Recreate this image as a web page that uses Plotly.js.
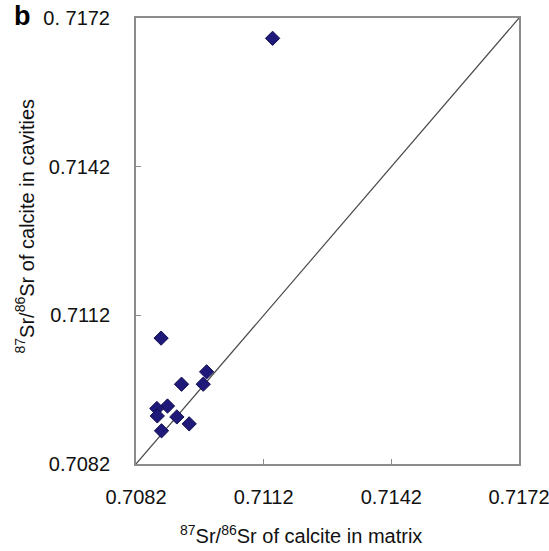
<!DOCTYPE html>
<html>
<head>
<meta charset="utf-8">
<script src="https://cdn.plot.ly/plotly-3.0.1.min.js"></script>
<style>html,body{margin:0;padding:0;background:#fff;}#chart{width:549px;height:551px;}</style>
</head>
<body>
<div id="chart"></div>
<script>
// Sr isotope ratios: matrix (x) vs cavities (y)
const matrixSr = [0.70879, 0.70986, 0.70978, 0.70927, 0.70894, 0.70869, 0.70870, 0.70916, 0.70945, 0.70880, 0.71141];
const cavitySr = [0.71074, 0.71006, 0.70981, 0.70981, 0.70937, 0.70932, 0.70917, 0.70915, 0.70901, 0.70887, 0.71679];
const tickVals = [0.7082, 0.7112, 0.7142, 0.7172];
const xTickText = ["0.7082", "0.7112", "0.7142", "0.7172"];
const yTickText = ["0.7082", "0.7112", "0.7142", "0. 7172"];
const lineRange = [0.7082, 0.7172];

const font = "Liberation Sans, Arial, sans-serif";

const traces = [
  {
    x: lineRange, y: lineRange, mode: "lines", type: "scatter",
    line: {color: "#4a4a4a", width: 1.2}, hoverinfo: "skip", showlegend: false
  },
  {
    x: matrixSr, y: cavitySr, mode: "markers", type: "scatter",
    marker: {symbol: "diamond", size: 11, color: "#1f1a7a", line: {color: "#120f50", width: 1}},
    showlegend: false
  }
];

const axisCommon = {
  range: lineRange, tickmode: "array", tickvals: tickVals,
  showgrid: false, zeroline: false,
  showline: true, linecolor: "#8c8c8c", linewidth: 2, mirror: true,
  ticks: "inside", ticklen: 5, tickcolor: "#8c8c8c", tickwidth: 1,
  ticklabeloverflow: "allow",
  tickfont: {family: font, size: 20, color: "#111"}
};

const layout = {
  width: 549, height: 551,
  margin: {l: 136, r: 30, t: 18, b: 87},
  paper_bgcolor: "#fff", plot_bgcolor: "#fff",
  showlegend: false,
  xaxis: Object.assign({}, axisCommon, {ticktext: xTickText, ticklabelstandoff: 14}),
  yaxis: Object.assign({}, axisCommon, {ticktext: yTickText, ticklabelstandoff: 20}),
  annotations: [
    {text: "<b>b</b>", xref: "paper", yref: "paper", x: 0, y: 1, xshift: -124, yshift: 2,
     xanchor: "left", yanchor: "middle", showarrow: false, font: {family: font, size: 27, color: "#000"}},
    {text: "<sup>87</sup>Sr/<sup>86</sup>Sr of calcite in matrix", xref: "paper", yref: "paper",
     x: 0.432, y: 0, yshift: -70, xanchor: "center", yanchor: "middle", showarrow: false,
     font: {family: font, size: 20, color: "#111"}},
    {text: "<sup>87</sup>Sr/<sup>86</sup>Sr of calcite in cavities", xref: "paper", yref: "paper",
     x: 0, y: 0.5325, xshift: -111, xanchor: "center", yanchor: "middle", textangle: -90, showarrow: false,
     font: {family: font, size: 20, color: "#111"}}
  ]
};

Plotly.newPlot("chart", traces, layout, {displayModeBar: false, staticPlot: true});
</script>
</body>
</html>
